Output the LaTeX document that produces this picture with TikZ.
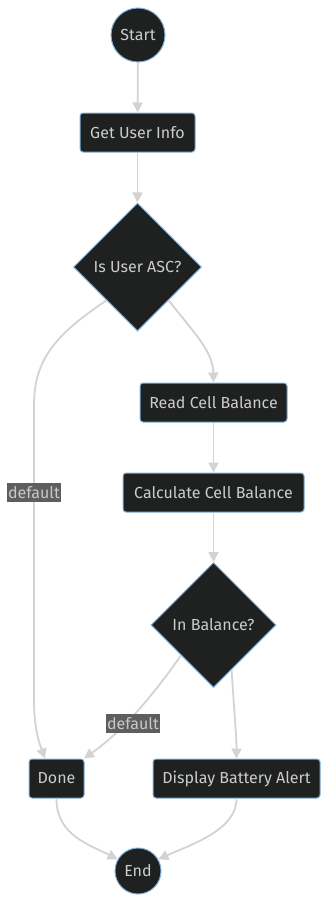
\documentclass[tikz,border=0pt]{standalone}
\usepackage{fontspec}
\setmainfont{Fira Sans}
\usetikzlibrary{shapes.geometric,arrows.meta}
\definecolor{nodefill}{HTML}{1F2020}
\definecolor{nodeline}{HTML}{81B1DB}
\definecolor{nodetext}{HTML}{CCCCCC}
\definecolor{edgecol}{HTML}{D3D3D3}
\definecolor{lblbg}{HTML}{5E5E5E}
\definecolor{lbltext}{HTML}{C8C8C8}
\tikzset{
  base/.style={draw=nodeline, line width=1pt, fill=nodefill, text=nodetext, font=\fontsize{16}{18}\selectfont, inner sep=0pt},
  rbox/.style={base, rectangle, rounded corners=3pt, minimum height=39pt},
  term/.style={base, circle},
  decide/.style={base, diamond, aspect=1},
  conn/.style={draw=edgecol, line width=1.8pt, -{Triangle[length=10pt,width=10pt]}},
  elabel/.style={fill=lblbg, text=lbltext, font=\fontsize{16}{18}\selectfont, inner sep=1pt, minimum height=19pt, minimum width=52pt}
}
\begin{document}
\begin{tikzpicture}[x=1pt,y=-1pt]
\useasboundingbox[fill=white] (0,0) rectangle (328,902);
\node[term, minimum size=54pt] (start) at (138,35) {Start};
\node[rbox, minimum width=115pt] (info) at (137.5,132.5) {Get User Info};
\node[decide, minimum width=128pt, minimum height=128pt] (asc) at (137.5,267) {Is User ASC?};
\node[rbox, minimum width=147pt] (read) at (213.5,402.5) {Read Cell Balance};
\node[rbox, minimum width=181pt] (calc) at (213.5,492.5) {Calculate Cell Balance};
\node[decide, minimum width=125pt, minimum height=125pt] (bal) at (213.5,625) {In Balance?};
\node[rbox, minimum width=55pt] (done) at (56.5,778.5) {Done};
\node[rbox, minimum width=167pt] (alert) at (236.5,778.5) {Display Battery Alert};
\node[term, minimum size=46pt] (end) at (138,871) {End};

\draw[conn] (start) -- (info);
\draw[conn] (info) -- (asc);
\draw[conn] (asc.-47) .. controls (196,335) and (213,352) .. (read.north);
\draw[conn] (asc.-133) .. controls (55,335) and (34,360) .. (34,405) -- (34,700) .. controls (34,730) and (40,745) .. ([xshift=-11.5pt]done.north);
\draw[conn] (read) -- (calc);
\draw[conn] (calc) -- (bal);
\draw[conn] (bal.-137) .. controls (150,700) and (120,733) .. ([xshift=27.5pt]done.north);
\draw[conn] (bal.-68) .. controls (234,710) and (236.5,735) .. (alert.north);
\draw[conn] (done.south) .. controls (56,835) and (90,845) .. (end.150);
\draw[conn] (alert.south) .. controls (237,830) and (190,845) .. (end.30);

\node[elabel] (l1) at (34,492.5) {default};
\node[elabel] (l2) at (133,723.5) {default};
\end{tikzpicture}
\end{document}
